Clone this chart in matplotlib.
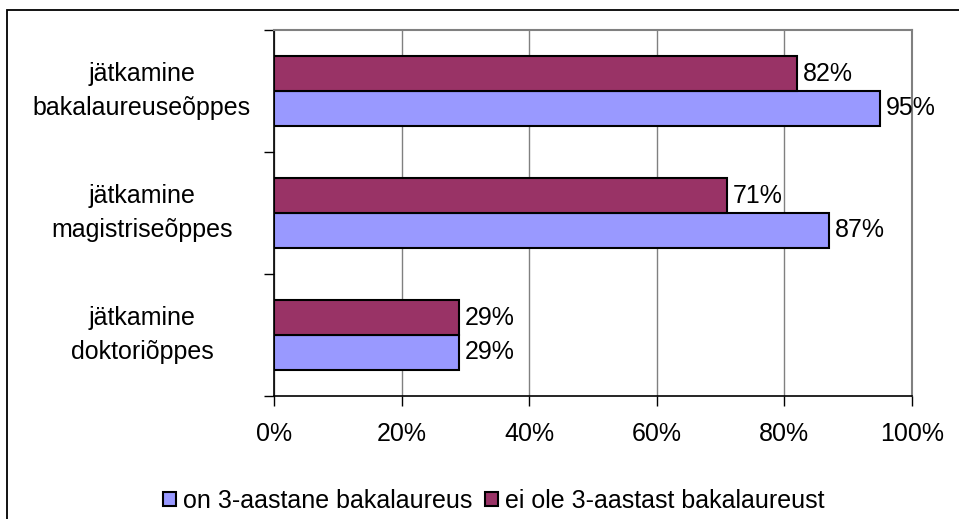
import matplotlib.pyplot as plt
from matplotlib.patches import Rectangle
from matplotlib.ticker import FixedLocator, PercentFormatter
import numpy as np

plt.rcParams["font.family"] = ["Liberation Sans", "DejaVu Sans"]

categories = [
    "jätkamine\ndoktoriõppes",
    "jätkamine\nmagistriseõppes",
    "jätkamine\nbakalaureuseõppes",
]
series_names = ["on 3-aastane bakalaureus", "ei ole 3-aastast bakalaureust"]
with_3yr = [29, 87, 95]
without_3yr = [29, 71, 82]
x_ticks = [0, 20, 40, 60, 80, 100]

blue = "#9999FF"
wine = "#993366"
fs = 18

fig = plt.figure(figsize=(9.59, 5.19), dpi=100)
# outer frame: only the left and top edges fall inside the picture
fig.patches.append(
    Rectangle((7 / 959, -0.1), 1.2, 1.1 - 10 / 519, transform=fig.transFigure,
              fill=False, edgecolor="black", linewidth=1.3, zorder=0)
)
ax = fig.add_axes([274 / 959, 1 - 396 / 519, 638 / 959, 366 / 519])

y = np.arange(len(categories))
h = 0.283
b1 = ax.barh(y - h / 2, with_3yr, height=h, color=blue, edgecolor="black",
             linewidth=1.5, label=series_names[0], zorder=3)
b2 = ax.barh(y + h / 2, without_3yr, height=h, color=wine, edgecolor="black",
             linewidth=1.5, label=series_names[1], zorder=3)

for bars in (b1, b2):
    for rect in bars:
        w = rect.get_width()
        ax.annotate(f"{w:.0f}%", (w, rect.get_y() + rect.get_height() / 2),
                    xytext=(4, 0), textcoords="offset points",
                    va="center", ha="left", fontsize=fs, zorder=4)

ax.set_xlim(0, 100)
ax.set_ylim(-0.5, len(categories) - 0.5)
ax.xaxis.set_major_locator(FixedLocator(x_ticks))
ax.xaxis.set_major_formatter(PercentFormatter(decimals=0))
ax.grid(axis="x", color="#808080", linewidth=1, zorder=1)
ax.tick_params(axis="x", length=7, width=1, pad=12, labelsize=fs)

# category boundaries carry the tick marks, labels sit in the middle
ax.set_yticks(np.arange(len(categories) + 1) - 0.5)
ax.set_yticklabels([])
ax.tick_params(axis="y", length=7, width=1)
for i, cat in enumerate(categories):
    ax.text(-0.207, i, cat, transform=ax.get_yaxis_transform(),
            ha="center", va="center", multialignment="center",
            fontsize=fs, linespacing=1.5)

for side in ("top", "right"):
    ax.spines[side].set_color("#808080")
    ax.spines[side].set_linewidth(1.5)
for side in ("left", "bottom"):
    ax.spines[side].set_color("black")
    ax.spines[side].set_linewidth(1.2)

fig.legend(handles=[b1, b2], labels=series_names, loc="center",
           bbox_to_anchor=(494 / 959, 1 - 501 / 519), ncol=2, frameon=False,
           fontsize=fs, handlelength=0.5, handleheight=0.5,
           handletextpad=0.3, columnspacing=0.5, borderpad=0)

fig.savefig("out.png", dpi=100)
